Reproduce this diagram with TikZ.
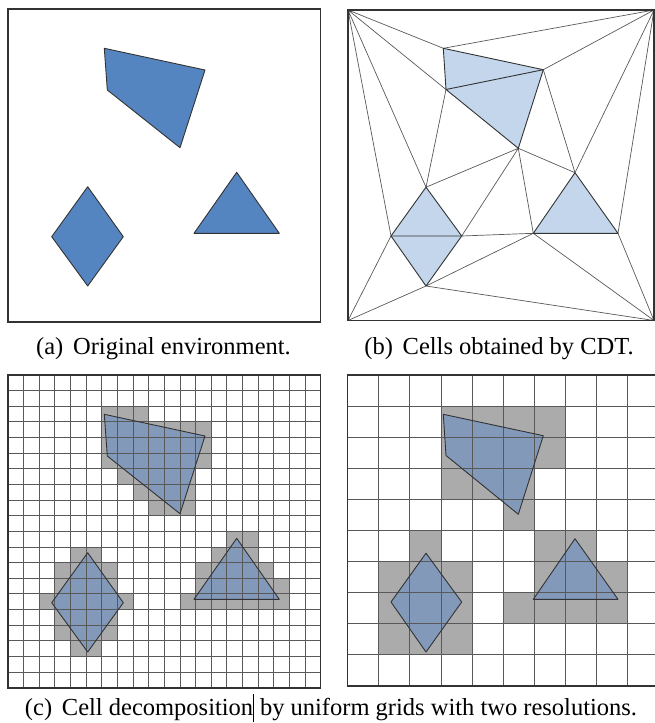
\documentclass[tikz,border=0pt]{standalone}
\usepackage{fontspec}
\setmainfont{Liberation Serif}
\definecolor{obstblue}{HTML}{5585C0}
\definecolor{cdtblue}{HTML}{C4D6EC}
\definecolor{gridblue}{HTML}{8399BA}
\definecolor{cellgray}{HTML}{ABABAB}
\begin{document}
\begin{tikzpicture}[x=1pt,y=-1pt,
  frame/.style={draw=black!80, line width=1.4pt},
  obst/.style={draw=black!80, line width=0.9pt, line join=round},
  cdtline/.style={draw=black!65, line width=0.7pt},
  gridline/.style={draw=black!65, line width=0.85pt},
  capt/.style={font=\fontsize{24.5}{28}\selectfont, anchor=base, inner sep=0pt}]
\useasboundingbox (0,0) rectangle (655,723);
\clip (0,0) rectangle (655,723);

% ---------- (a) original environment ----------
\begin{scope}
  \filldraw[obst, fill=obstblue] (104.3,48.3) -- (205,70) -- (180,147.7) -- (107.3,90) -- cycle;
  \filldraw[obst, fill=obstblue] (87.7,186.7) -- (123.3,236.7) -- (87.7,286) -- (51.7,236.7) -- cycle;
  \filldraw[obst, fill=obstblue] (236.7,172.3) -- (279.3,233.3) -- (194,233.3) -- cycle;
  \draw[frame] (8,9) rectangle (320.7,322);
\end{scope}

% ---------- (b) CDT ----------
\coordinate (TL) at (348,10);
\coordinate (TR) at (654,10);
\coordinate (BL) at (348,320.5);
\coordinate (BR) at (654,320.5);
\coordinate (Q1) at (443.3,48.3);
\coordinate (Q2) at (543.3,69.7);
\coordinate (Q3) at (518.3,148.3);
\coordinate (Q4) at (446,89.5);
\coordinate (D1) at (426,187.2);
\coordinate (D2) at (461.7,236);
\coordinate (D3) at (426,286);
\coordinate (D4) at (391,236);
\coordinate (T1) at (575,172.7);
\coordinate (T2) at (618,233.3);
\coordinate (T3) at (533.3,233.3);
\fill[cdtblue] (Q1) -- (Q2) -- (Q3) -- (Q4) -- cycle;
\fill[cdtblue] (D1) -- (D2) -- (D3) -- (D4) -- cycle;
\fill[cdtblue] (T1) -- (T2) -- (T3) -- cycle;
\draw[cdtline] (TL) -- (Q1) (TL) -- (Q4) (TL) -- (D1) (TL) -- (D4)
  (TR) -- (Q1) (TR) -- (Q2) (TR) -- (T1) (TR) -- (T2)
  (BL) -- (D4) (BL) -- (D3)
  (BR) -- (D3) (BR) -- (T3) (BR) -- (T2)
  (Q4) -- (D1) (D1) -- (Q3) (Q3) -- (D2) (Q3) -- (T3) (Q3) -- (T1)
  (Q2) -- (T1) (D2) -- (T3) (D3) -- (T3);
\draw[obst] (Q4) -- (Q2) (D4) -- (D2);
\draw[obst] (Q1) -- (Q2) -- (Q3) -- (Q4) -- cycle;
\draw[obst] (D1) -- (D2) -- (D3) -- (D4) -- cycle;
\draw[obst] (T1) -- (T2) -- (T3) -- cycle;
\draw[frame] (TL) rectangle (BR);

% ---------- (c) left: fine grid ----------
\begin{scope}[shift={(8,375)}]
  \def\s{15.635}
  \foreach \r/\cols in {2/{6,7,8}, 3/{6,...,12}, 4/{6,...,12}, 5/{6,...,12},
      6/{7,...,11}, 7/{8,...,11}, 8/{9,10,11}, 10/{14,15},
      11/{4,5,13,14,15}, 12/{3,4,5,6,12,13,14,15,16},
      13/{3,4,5,6,12,13,14,15,16,17}, 14/{2,...,7,11,12,13,14,15,16,17},
      15/{3,4,5,6}, 16/{3,4,5,6}, 17/{4,5}}{
    \foreach \c in \cols {
      \fill[cellgray] (\c*\s,\r*\s) rectangle ++(\s,\s);
    }
  }
\end{scope}
\begin{scope}[shift={(0,366)}]
  \fill[gridblue] (104.3,48.3) -- (205,70) -- (180,147.7) -- (107.3,90) -- cycle;
  \fill[gridblue] (87.7,186.7) -- (123.3,236.7) -- (87.7,286) -- (51.7,236.7) -- cycle;
  \fill[gridblue] (236.7,172.3) -- (279.3,233.3) -- (194,233.3) -- cycle;
\end{scope}
\begin{scope}[shift={(8,375)}]
  \def\s{15.635}
  \foreach \i in {1,...,19} {
    \draw[gridline] (\i*\s,0) -- (\i*\s,20*\s);
    \draw[gridline] (0,\i*\s) -- (20*\s,\i*\s);
  }
\end{scope}
\begin{scope}[shift={(0,366)}]
  \draw[obst] (104.3,48.3) -- (205,70) -- (180,147.7) -- (107.3,90) -- cycle;
  \draw[obst] (87.7,186.7) -- (123.3,236.7) -- (87.7,286) -- (51.7,236.7) -- cycle;
  \draw[obst] (236.7,172.3) -- (279.3,233.3) -- (194,233.3) -- cycle;
  \draw[frame] (8,9) rectangle (320.7,322);
\end{scope}

% ---------- (c) right: coarse grid ----------
\begin{scope}[shift={(347.7,375)}]
  \def\S{31.1}
  \foreach \r/\cols in {1/{3,4,5,6}, 2/{3,4,5,6}, 3/{3,4,5}, 4/{5},
      5/{2,6,7}, 6/{1,2,3,6,7,8}, 7/{1,2,3,5,6,7,8}, 8/{1,2,3}}{
    \foreach \c in \cols {
      \fill[cellgray] (\c*\S,\r*\S) rectangle ++(\S,\S);
    }
  }
\end{scope}
\begin{scope}[shift={(0,366)}]
  \fill[gridblue] (443.3,48.3) -- (543.3,69.7) -- (518.3,148.3) -- (446,89.5) -- cycle;
  \fill[gridblue] (426,187.2) -- (461.7,236) -- (426,286) -- (391,236) -- cycle;
  \fill[gridblue] (575,172.7) -- (618,233.3) -- (533.3,233.3) -- cycle;
\end{scope}
\begin{scope}[shift={(347.7,375)}]
  \def\S{31.1}
  \foreach \i in {1,...,9} {
    \draw[gridline] (\i*\S,0) -- (\i*\S,10*\S);
    \draw[gridline] (0,\i*\S) -- (10*\S,\i*\S);
  }
  \draw[frame] (0,0) rectangle (10*\S,10*\S);
\end{scope}
\begin{scope}[shift={(0,366)}]
  \draw[obst] (443.3,48.3) -- (543.3,69.7) -- (518.3,148.3) -- (446,89.5) -- cycle;
  \draw[obst] (426,187.2) -- (461.7,236) -- (426,286) -- (391,236) -- cycle;
  \draw[obst] (575,172.7) -- (618,233.3) -- (533.3,233.3) -- cycle;
\end{scope}

% ---------- captions ----------
\node[capt] (capa) at (163.5,354) {(a)\hspace{0.4em}Original environment.};
\node[capt] (capb) at (499,354) {(b)\hspace{0.4em}Cells obtained by CDT.};
\node[capt] (capc) at (331,715) {(c)\hspace{0.4em}Cell decomposition\rule[-0.3em]{0.7pt}{1.15em} by uniform grids with two resolutions.};
\end{tikzpicture}
\end{document}
